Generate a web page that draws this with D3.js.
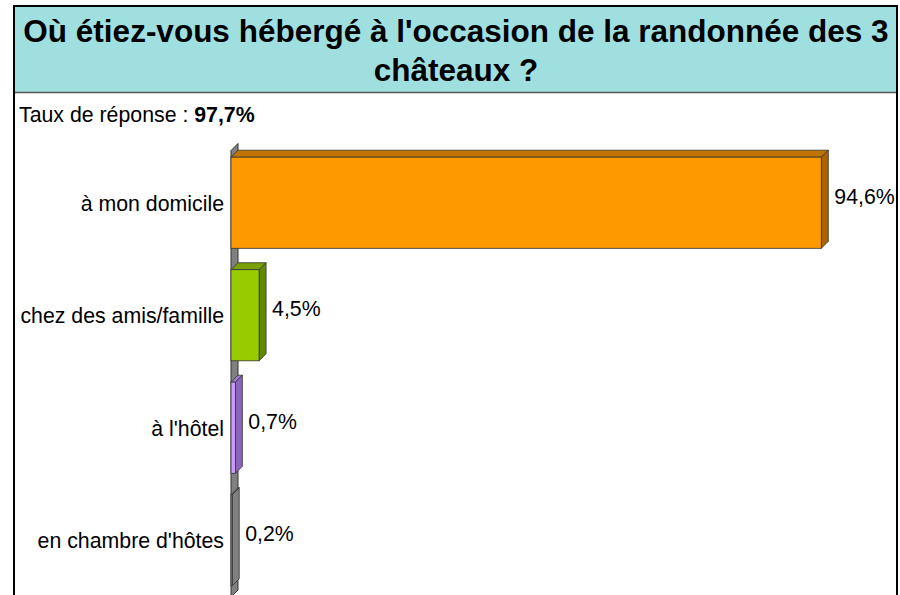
<!DOCTYPE html>
<html><head><meta charset="utf-8">
<script src="https://cdn.jsdelivr.net/npm/d3@7"></script>
<style>html,body{margin:0;padding:0;background:#fff;}svg{display:block;font-family:"Liberation Sans",Arial,sans-serif;}</style>
</head><body>
<script>
const titleLines = ["Où étiez-vous hébergé à l'occasion de la randonnée des 3", "châteaux ?"];
const responseLabel = "Taux de réponse : ";
const responseRate = "97,7%";
const categories = ["à mon domicile", "chez des amis/famille", "à l'hôtel", "en chambre d'hôtes"];
const values = [94.6, 4.5, 0.7, 0.2];
const valueLabels = ["94,6%", "4,5%", "0,7%", "0,2%"];
const frontColors = ["#ff9900", "#99cc00", "#cc99ff", "#909090"];
const topColors = ["#c27400", "#77a000", "#a77fd6", "#808080"];
const sideColors = ["#a86400", "#5f8a00", "#8a66bb", "#808080"];

const W = 900, H = 595;
const svg = d3.select("body").append("svg").attr("width", W).attr("height", H);

// frame + title box
svg.append("rect").attr("x", 14).attr("y", 6).attr("width", 883).attr("height", 86)
  .attr("fill", "#a0dfe0");
svg.append("line").attr("x1", 14).attr("x2", 897).attr("y1", 92.5).attr("y2", 92.5)
  .attr("stroke", "#555").attr("stroke-width", 1.5);
svg.append("path").attr("d", "M14,600V6H897V600").attr("fill", "none")
  .attr("stroke", "#000").attr("stroke-width", 2);

const tb = [42, 81];
titleLines.forEach((t, i) => {
  svg.append("text").attr("x", 456).attr("y", tb[i]).attr("text-anchor", "middle")
    .attr("font-size", 31.5).attr("font-weight", "bold").attr("fill", "#000").text(t);
});

const rt = svg.append("text").attr("x", 19).attr("y", 122).attr("font-size", 21.3).attr("fill", "#000");
rt.append("tspan").text(responseLabel);
rt.append("tspan").attr("font-weight", "bold").text(responseRate);

// scales
const x0 = 231;
const x = d3.scaleLinear().domain([0, 100]).range([x0, 855]);
const y = d3.scaleBand().domain(categories).range([146.5, 596.5]).paddingInner(0.19).paddingOuter(0.095);
const dx = 7, dy = 7;

// wall
const wallTop = y.range()[0] - 3, wallBot = 597;
svg.append("path")
  .attr("d", `M${x0},${wallTop + dy}L${x0 + dx},${wallTop}L${x0 + dx},${wallBot - dy}L${x0},${wallBot}Z`)
  .attr("fill", "#808080").attr("stroke", "#333").attr("stroke-width", 1);

const g = svg.append("g");
categories.forEach((c, i) => {
  const x1 = x(values[i]);
  const yt = y(c), yb = y(c) + y.bandwidth();
  // top face
  g.append("path").attr("d", `M${x0},${yt}L${x0 + dx},${yt - dy}L${x1 + dx},${yt - dy}L${x1},${yt}Z`)
    .attr("fill", topColors[i]).attr("stroke", "#333").attr("stroke-width", 0.8);
  // side face
  g.append("path").attr("d", `M${x1},${yt}L${x1 + dx},${yt - dy}L${x1 + dx},${yb - dy}L${x1},${yb}Z`)
    .attr("fill", sideColors[i]).attr("stroke", "#333").attr("stroke-width", 0.8);
  // front face
  g.append("rect").attr("x", x0).attr("y", yt).attr("width", x1 - x0).attr("height", yb - yt)
    .attr("fill", frontColors[i]).attr("stroke", "#333").attr("stroke-width", 0.8);
  // value label
  g.append("text").attr("x", x1 + dx + 6).attr("y", y(c) + y.bandwidth() / 2 - 6)
    .attr("dominant-baseline", "central").attr("font-size", 21.3).attr("fill", "#000").text(valueLabels[i]);
  // category label
  g.append("text").attr("x", 224).attr("y", y(c) + y.bandwidth() / 2 + 1)
    .attr("dominant-baseline", "central").attr("text-anchor", "end")
    .attr("font-size", 21.3).attr("fill", "#000").text(c);
});
</script>
</body></html>
